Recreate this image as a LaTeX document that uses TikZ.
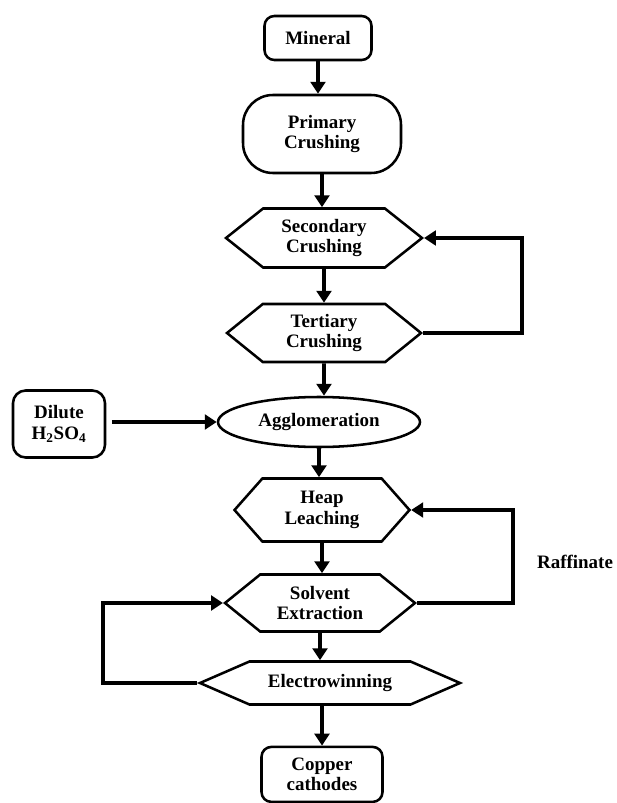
\documentclass[tikz,border=0pt]{standalone}
\usepackage{fontspec}
\setmainfont{Liberation Serif}
\usetikzlibrary{arrows.meta,shapes.geometric,shapes.symbols}

\tikzset{
  box/.style={draw,rectangle,rounded corners=7pt,line width=1.8pt,inner sep=0pt},
  stadium/.style={draw,rectangle,rounded corners=0.75cm,line width=1.8pt,inner sep=0pt},
  hexa/.style={draw,signal,signal to=west and east,line width=1.8pt,inner sep=0pt},
  oval/.style={draw,ellipse,line width=1.8pt,inner sep=0pt},
  flow/.style={line width=2.6pt,-{Triangle[length=8.5pt,width=10.5pt]}}
}

\begin{document}
\begin{tikzpicture}[font=\bfseries\fontsize{13.5}{14.5}\selectfont,align=center,line join=miter]
  \useasboundingbox (0,0) rectangle (15.4,-20.075);

  \node[box,minimum width=2.675cm,minimum height=1.1cm] (min) at (7.95,-0.95) {Mineral};
  \node[stadium,minimum width=3.95cm,minimum height=1.95cm] (pri) at (8.05,-3.35) {Primary\\Crushing};
  \node[hexa,minimum width=4.9cm,minimum height=1.475cm,signal pointer angle=77] (sec) at (8.1,-5.95) {Secondary\\Crushing};
  \node[hexa,minimum width=4.85cm,minimum height=1.45cm,signal pointer angle=78] (ter) at (8.1,-8.325) {Tertiary\\Crushing};
  \node[box,minimum width=2.3cm,minimum height=1.675cm,rounded corners=9pt] (dil) at (1.475,-10.6) {Dilute\\H\textsubscript{2}SO\textsubscript{4}};
  \node[oval,minimum width=5.05cm,minimum height=1.25cm] (agg) at (7.975,-10.55) {Agglomeration};
  \node[hexa,minimum width=4.375cm,minimum height=1.575cm,signal pointer angle=97] (hea) at (8.05,-12.75) {Heap\\Leaching};
  \node[hexa,minimum width=4.75cm,minimum height=1.425cm,signal pointer angle=78] (sol) at (8.0,-15.075) {Solvent\\Extraction};
  \node[hexa,minimum width=6.5cm,minimum height=1.075cm,signal pointer angle=47] (ele) at (8.25,-17.075) {Electrowinning};
  \node[box,minimum width=3.025cm,minimum height=1.375cm] (cop) at (8.05,-19.36) {Copper\\cathodes};
  \node (raf) at (14.375,-14.05) {Raffinate};

  \coordinate (rc) at (13.05,-5.95);
  \coordinate (rr) at (12.825,-12.75);
  \coordinate (lr) at (2.575,-15.075);

  \draw[flow] (min) -- (min |- pri.north);
  \draw[flow] (pri) -- (pri |- sec.north);
  \draw[flow] (sec) -- (sec |- ter.north);
  \draw[flow] (ter) -- (ter |- agg.north);
  \draw[flow] (agg) -- (agg |- hea.north);
  \draw[flow] (hea) -- (hea |- sol.north);
  \draw[flow] (sol) -- (sol |- ele.north);
  \draw[flow] (ele.south -| cop) -- (cop);
  \draw[flow] ([xshift=4pt]dil.east |- agg) -- (agg.west);

  \draw[flow] (ter.east) -| (rc) -- (sec.east);
  \draw[flow] (sol.east) -| (rr) -- (hea.east);
  \draw[flow] (ele.west) -| (lr) -- (sol.west);
\end{tikzpicture}
\end{document}
